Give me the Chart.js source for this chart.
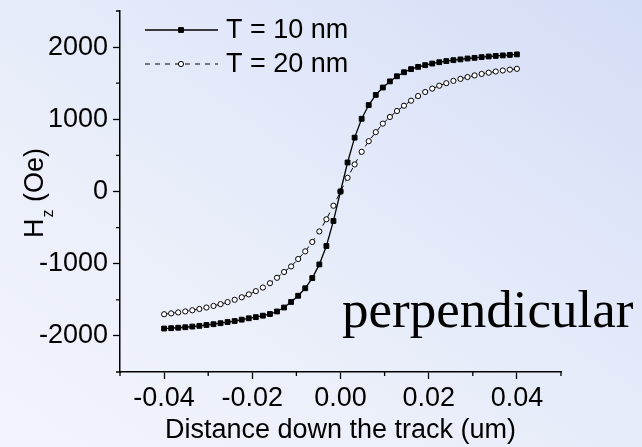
<!DOCTYPE html>
<html lang="en">
<head>
<meta charset="UTF-8">
<title>Hz down the track</title>
<script src="https://cdn.jsdelivr.net/npm/chart.js"></script>
<style>
  html, body { margin: 0; padding: 0; }
  body {
    width: 642px;
    height: 447px;
    overflow: hidden;
    background: linear-gradient(to bottom left, #d4ddf7 0%, #e2e8f9 35%, #ecf0fa 70%, #f1f4fb 100%);
  }
  canvas { display: block; }
</style>
</head>
<body>
<canvas id="field" width="642" height="447"></canvas>
<script>
// distance down the track (um)
const distance = [
  -0.04, -0.0384, -0.0368, -0.0352, -0.0336, -0.032, -0.0304, -0.0288, -0.0272, -0.0256,
  -0.024, -0.0224, -0.0208, -0.0192, -0.0176, -0.016, -0.0144, -0.0128, -0.0112, -0.0096,
  -0.008, -0.0064, -0.0048, -0.0032, -0.0016, 0, 0.0016, 0.0032, 0.0048, 0.0064,
  0.008, 0.0096, 0.0112, 0.0128, 0.0144, 0.016, 0.0176, 0.0192, 0.0208, 0.0224,
  0.024, 0.0256, 0.0272, 0.0288, 0.0304, 0.032, 0.0336, 0.0352, 0.0368, 0.0384, 0.04
];

// Hz (Oe), T = 10 nm
const hz10 = [
  -1898, -1893, -1887, -1880, -1871, -1861, -1849, -1838, -1824, -1808,
  -1794, -1775, -1756, -1740, -1720, -1697, -1662, -1607, -1530, -1444,
  -1340, -1199, -1010, -755, -408, 0, 402, 746, 1007, 1197,
  1338, 1440, 1525, 1596, 1652, 1695, 1726, 1750, 1772, 1791,
  1806, 1819, 1830, 1842, 1851, 1861, 1870, 1878, 1885, 1892, 1899
];

// Hz (Oe), T = 20 nm
const hz20 = [
  -1700, -1688, -1675, -1661, -1645, -1627, -1607, -1585, -1560, -1532,
  -1500, -1465, -1425, -1380, -1330, -1270, -1195, -1115, -1038, -935,
  -829, -699, -553, -385, -197, 0, 190, 375, 550, 697,
  822, 940, 1032, 1115, 1188, 1258, 1322, 1378, 1425, 1465,
  1500, 1532, 1560, 1585, 1608, 1628, 1646, 1662, 1676, 1688, 1699
];

const seriesNames = ['T = 10 nm', 'T = 20 nm'];

// tick positions; only the ones in the label lists get text and a long tick
const xTicks = [-0.05, -0.04, -0.03, -0.02, -0.01, 0, 0.01, 0.02, 0.03, 0.04, 0.05];
const xLabels = [-0.04, -0.02, 0, 0.02, 0.04];
const yTicks = [-2500, -2000, -1500, -1000, -500, 0, 500, 1000, 1500, 2000, 2500];
const yLabels = [-2000, -1000, 0, 1000, 2000];

const sans = "'Liberation Sans', Arial, sans-serif";
Chart.defaults.font.family = sans;
Chart.defaults.color = '#000';

function toPoints(ys) {
  return distance.map((x, i) => ({ x: x, y: ys[i] }));
}

function tickStyle(labels) {
  return ctx => labels.includes(ctx.tick.value) ? '#000' : 'rgba(0,0,0,0)';
}

// short ticks in between the labelled ones
const minorTicks = {
  id: 'minorTicks',
  afterDraw(chart) {
    const ctx = chart.ctx;
    const x = chart.scales.x, y = chart.scales.y;
    ctx.save();
    ctx.strokeStyle = '#000';
    ctx.lineWidth = 1.3;
    ctx.beginPath();
    xTicks.filter(v => !xLabels.includes(v)).forEach(v => {
      const px = x.getPixelForValue(v);
      ctx.moveTo(px, x.top);
      ctx.lineTo(px, x.top + 4);
    });
    yTicks.filter(v => !yLabels.includes(v)).forEach(v => {
      const py = y.getPixelForValue(v);
      ctx.moveTo(y.right, py);
      ctx.lineTo(y.right - 4, py);
    });
    ctx.stroke();
    ctx.restore();
  }
};

// rotated "Hz (Oe)" with a subscript z
const yTitle = {
  id: 'yTitle',
  afterDraw(chart) {
    const ctx = chart.ctx;
    ctx.save();
    ctx.translate(43, 238);
    ctx.rotate(-Math.PI / 2);
    ctx.fillStyle = '#000';
    ctx.textBaseline = 'alphabetic';
    ctx.font = '27px ' + sans;
    ctx.fillText('H', 0, 0);
    let w = ctx.measureText('H').width + 1;
    ctx.font = '16px ' + sans;
    ctx.fillText('z', w, 10);
    w += ctx.measureText('z').width;
    ctx.font = '27px ' + sans;
    ctx.fillText(' (Oe)', w, 0);
    ctx.restore();
  }
};

function drawMarker(ctx, ds, x, y) {
  ctx.setLineDash([]);
  ctx.lineWidth = 1;
  ctx.strokeStyle = ds.pointBorderColor;
  ctx.fillStyle = ds.pointBackgroundColor;
  ctx.beginPath();
  if (ds.pointStyle === 'rect') {
    const s = ds.pointRadius * Math.SQRT1_2;
    ctx.rect(x - s, y - s, 2 * s, 2 * s);
  } else {
    ctx.arc(x, y, ds.pointRadius, 0, Math.PI * 2);
  }
  ctx.fill();
  ctx.stroke();
}

// legend: line sample with the marker in the middle
const seriesKey = {
  id: 'seriesKey',
  afterDraw(chart) {
    const ctx = chart.ctx;
    const rows = [30, 64];
    ctx.save();
    chart.data.datasets.forEach((ds, i) => {
      const y = rows[i];
      ctx.strokeStyle = ds.borderColor;
      ctx.lineWidth = ds.borderWidth;
      ctx.setLineDash(ds.borderDash || []);
      ctx.beginPath();
      ctx.moveTo(145, y);
      ctx.lineTo(218, y);
      ctx.stroke();
      drawMarker(ctx, ds, 181, y);
      ctx.fillStyle = '#000';
      ctx.font = '27px ' + sans;
      ctx.textBaseline = 'middle';
      ctx.fillText(ds.label, 226, y + 1);
    });
    ctx.restore();
  }
};

const note = {
  id: 'note',
  afterDraw(chart) {
    const ctx = chart.ctx;
    ctx.save();
    ctx.fillStyle = '#000';
    ctx.font = "53px 'Liberation Serif', 'Times New Roman', serif";
    ctx.textBaseline = 'alphabetic';
    ctx.fillText('perpendicular', 342, 327);
    ctx.restore();
  }
};

new Chart(document.getElementById('field'), {
  type: 'line',
  data: {
    datasets: [
      {
        label: seriesNames[0],
        data: toPoints(hz10),
        borderColor: '#000',
        borderWidth: 1.3,
        pointStyle: 'rect',
        pointRadius: 3.4,
        pointBackgroundColor: '#000',
        pointBorderColor: '#000',
        pointBorderWidth: 1,
        tension: 0
      },
      {
        label: seriesNames[1],
        data: toPoints(hz20),
        borderColor: '#000',
        borderWidth: 1,
        borderDash: [5, 5],
        pointStyle: 'circle',
        pointRadius: 2.6,
        pointBackgroundColor: '#fff',
        pointBorderColor: '#000',
        pointBorderWidth: 1,
        tension: 0
      }
    ]
  },
  options: {
    responsive: false,
    animation: false,
    events: [],
    layout: { padding: { left: 0, top: 11, right: 81, bottom: 0 } },
    plugins: {
      legend: { display: false },
      tooltip: { enabled: false }
    },
    scales: {
      x: {
        type: 'linear',
        min: -0.05,
        max: 0.05,
        afterBuildTicks: s => { s.ticks = xTicks.map(v => ({ value: v })); },
        afterFit: s => { s.height = 75; },
        border: { color: '#000', width: 1.5 },
        grid: {
          drawOnChartArea: false,
          tickLength: 7,
          tickWidth: 1.3,
          tickColor: tickStyle(xLabels)
        },
        ticks: {
          autoSkip: false,
          maxRotation: 0,
          padding: 3,
          font: { size: 27 },
          callback: v => xLabels.includes(v) ? v.toFixed(2) : ''
        },
        title: {
          display: true,
          text: 'Distance down the track (um)',
          font: { size: 27 },
          padding: 0
        }
      },
      y: {
        min: -2500,
        max: 2500,
        afterBuildTicks: s => { s.ticks = yTicks.map(v => ({ value: v })); },
        afterFit: s => {
          s.width = 120;
          s.paddingTop = 0;
          s.paddingBottom = 0;
        },
        border: { color: '#000', width: 1.5 },
        grid: {
          drawOnChartArea: false,
          tickLength: 7,
          tickWidth: 1.3,
          tickColor: tickStyle(yLabels)
        },
        ticks: {
          autoSkip: false,
          padding: 5,
          font: { size: 27 },
          callback: v => yLabels.includes(v) ? String(v) : ''
        }
      }
    }
  },
  plugins: [minorTicks, yTitle, seriesKey, note]
});
</script>
</body>
</html>
